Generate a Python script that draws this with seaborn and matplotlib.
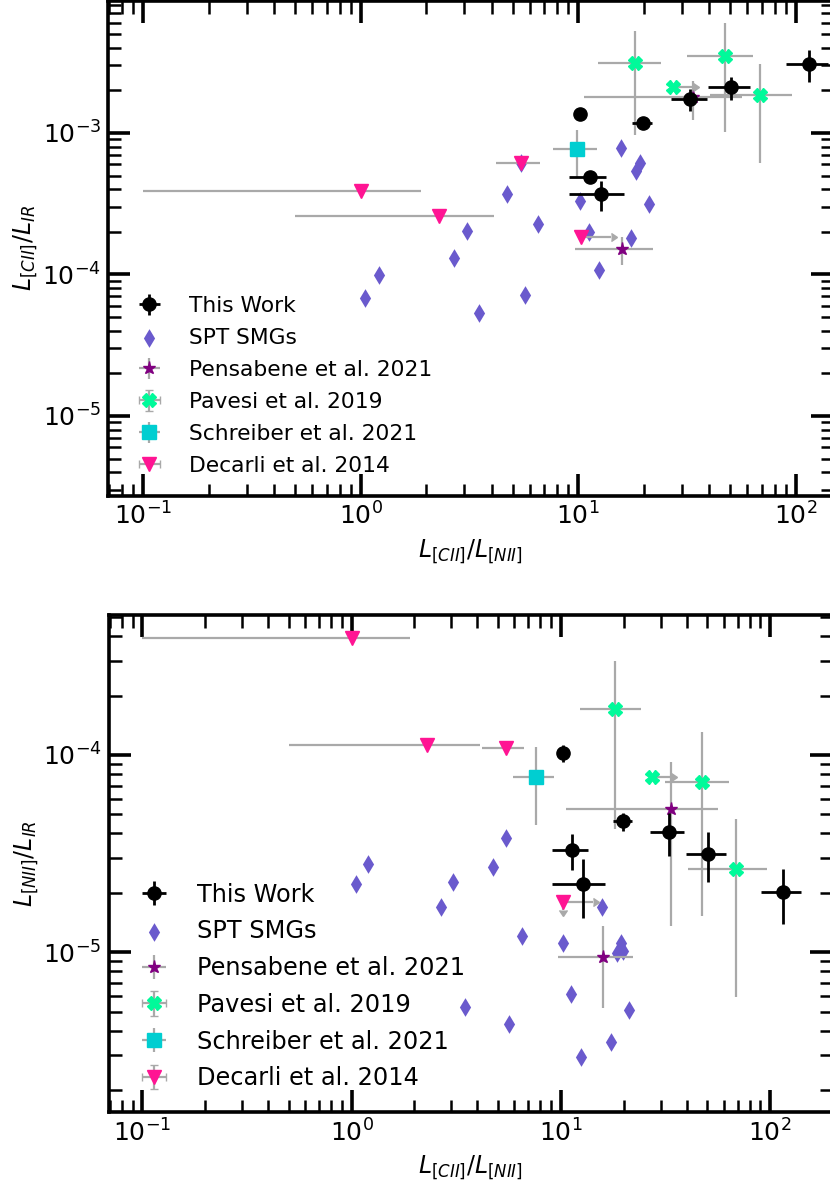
import matplotlib
matplotlib.use("Agg")
import matplotlib.pyplot as plt
import seaborn as sns
import numpy as np

# ---------------- data ----------------
# This Work (shared x for both panels)
tw_x = [10.2, 19.8, 11.3, 12.7, 32.8, 50.5, 115.7]
tw_xerr = [0.3, 2.1, 2.2, 3.6, 6.2, 11.0, 25.0]
tw_top_y = [1.36e-3, 1.18e-3, 4.9e-4, 3.7e-4, 1.75e-3, 2.10e-3, 3.06e-3]
tw_top_yerr = [0.06e-3, 0.05e-3, 0.3e-4, 0.9e-4, 0.31e-3, 0.38e-3, 0.77e-3]
tw_bot_y = [1.02e-4, 4.6e-5, 3.29e-5, 2.23e-5, 4.07e-5, 3.16e-5, 2.01e-5]
tw_bot_yerr = [0.1e-4, 0.47e-5, 0.69e-5, 0.74e-5, 0.98e-5, 0.9e-5, 0.62e-5]

# SPT SMGs
spt_top_x = [5.45, 4.73, 6.55, 3.09, 2.68, 1.216, 1.049, 3.52, 5.70, 15.7,
             19.3, 18.5, 21.1, 10.2, 11.2, 17.5, 12.5]
spt_top_y = [6.11e-4, 3.71e-4, 2.28e-4, 2.04e-4, 1.315e-4, 9.87e-5, 6.79e-5,
             5.32e-5, 7.19e-5, 7.80e-4, 6.11e-4, 5.35e-4, 3.15e-4, 3.31e-4,
             2.0e-4, 1.80e-4, 1.08e-4]
spt_bot_x = [1.20, 1.047, 3.07, 2.69, 5.45, 4.75, 6.52, 10.2, 15.7, 19.3,
             18.5, 19.8, 11.2, 3.48, 5.68, 21.1, 17.4, 12.5]
spt_bot_y = [2.80e-5, 2.22e-5, 2.27e-5, 1.69e-5, 3.81e-5, 2.69e-5, 1.21e-5,
             1.12e-5, 1.70e-5, 1.12e-5, 9.89e-6, 1.02e-5, 6.14e-6, 5.25e-6,
             4.35e-6, 5.1e-6, 3.51e-6, 2.96e-6]

# Pensabene et al. 2021
pen_x = [15.9, 33.6]
pen_xerr = [6.2, 23.0]
pen_top_y = [1.51e-4, 1.79e-3]
pen_top_yerr = [0.34e-4, 0.55e-3]
pen_bot_y = [9.43e-6, 5.31e-5]
pen_bot_yerr = [4.2e-6, 3.95e-5]

# Pavesi et al. 2019
pav_x = [18.2, 47.5, 68.6, 27.4]
pav_xerr = [5.9, 16.0, 28.0, 6.3]
pav_xlolims = [False, False, False, True]
pav_top_y = [3.11e-3, 3.52e-3, 1.85e-3, 2.12e-3]
pav_top_yerr = [2.15e-3, 2.5e-3, 1.24e-3, 0.0]
pav_bot_y = [1.70e-4, 7.33e-5, 2.65e-5, 7.74e-5]
pav_bot_yerr = [1.28e-4, 5.8e-5, 2.06e-5, 0.0]

# Schreiber et al. 2021
sch_top_x = [9.9]
sch_top_xerr = [2.25]
sch_top_y = [7.7e-4]
sch_top_yerr = [2.8e-4]
sch_bot_x = [7.6]
sch_bot_xerr = [1.7]
sch_bot_y = [7.7e-5]
sch_bot_yerr = [3.3e-5]

# Decarli et al. 2014
dec_x = [1.0, 2.3, 5.45, 10.3]
dec_xerr = [0.9, 1.8, 1.25, 3.9]
dec_xlolims = [False, False, False, True]
dec_top_y = [3.9e-4, 2.59e-4, 6.1e-4, 1.85e-4]
dec_bot_y = [3.9e-4, 1.12e-4, 1.09e-4, 1.80e-5]
dec_bot_yerr = [0.0, 0.0, 0.0, 0.17e-5]
dec_bot_uplims = [False, False, False, True]

labels = ["This Work", "SPT SMGs", "Pensabene et al. 2021",
          "Pavesi et al. 2019", "Schreiber et al. 2021", "Decarli et al. 2014"]

# ---------------- style ----------------
sns.set_style("ticks")
plt.rcParams["font.family"] = ["DejaVu Sans"]
plt.rcParams["mathtext.fontset"] = "dejavusans"
for k in ["text.color", "axes.labelcolor", "xtick.color", "ytick.color", "axes.edgecolor"]:
    plt.rcParams[k] = "black"

fig = plt.figure(figsize=(8.3, 11.82), dpi=100)
ax_top = fig.add_axes([108 / 830, 1 - 495.7 / 1182, (833 - 108) / 830, (495.7 - 1) / 1182])
ax_bot = fig.add_axes([108.5 / 830, 1 - 1112 / 1182, (832 - 108.5) / 830, (1112 - 615) / 1182])

MS = 9.5
GRAY = "darkgray"
ELW = 1.6


def gray_caps(container):
    for cl in container[1]:
        cl.set_color(GRAY)
        cl.set_markerfacecolor(GRAY)
        cl.set_markeredgecolor(GRAY)


def panel(ax, spt_x, spt_y, tw_y, tw_yerr, pen_y, pen_yerr, pav_y, pav_yerr,
          sch_x, sch_xerr, sch_y, sch_yerr, dec_y, dec_yerr, dec_uplims,
          xlim, ylim, ylabel, leg_fs, leg_ls):
    ax.set_xscale("log")
    ax.set_yscale("log")
    sns.scatterplot(x=spt_x, y=spt_y, marker="d", s=MS ** 2, color="slateblue",
                    linewidth=0, ax=ax, zorder=2)
    h_spt = ax.collections[-1]
    h_pen = ax.errorbar(pen_x, pen_y, xerr=pen_xerr, yerr=pen_yerr, fmt="*",
                        color="purple", ms=MS, ecolor=GRAY, elinewidth=ELW, zorder=3)
    h_pav = ax.errorbar(pav_x, pav_y, xerr=pav_xerr, yerr=pav_yerr, xlolims=pav_xlolims,
                        fmt="X", color="mediumspringgreen", ms=MS, ecolor=GRAY,
                        elinewidth=ELW, zorder=4)
    gray_caps(h_pav)
    h_sch = ax.errorbar(sch_x, sch_y, xerr=sch_xerr, yerr=sch_yerr, fmt="s",
                        color="darkturquoise", ms=MS, ecolor=GRAY, elinewidth=ELW, zorder=5)
    if dec_yerr is None:
        h_dec = ax.errorbar(dec_x, dec_y, xerr=dec_xerr, xlolims=dec_xlolims, fmt="v",
                            color="deeppink", ms=MS, ecolor=GRAY, elinewidth=ELW, zorder=6)
    else:
        h_dec = ax.errorbar(dec_x, dec_y, xerr=dec_xerr, xlolims=dec_xlolims,
                            yerr=dec_yerr, uplims=dec_uplims, fmt="v",
                            color="deeppink", ms=MS, ecolor=GRAY, elinewidth=ELW, zorder=6)
    gray_caps(h_dec)
    h_tw = ax.errorbar(tw_x, tw_y, xerr=tw_xerr, yerr=tw_yerr, fmt="o", color="black",
                       ms=MS, ecolor="black", elinewidth=2.0, zorder=7)
    ax.set_xlim(*xlim)
    ax.set_ylim(*ylim)
    ax.tick_params(which="both", direction="in", top=True, right=True,
                   labelsize=18, pad=5, colors="black")
    ax.tick_params(which="major", length=16, width=2.6)
    ax.tick_params(which="minor", length=9, width=1.8)
    for sp in ax.spines.values():
        sp.set_linewidth(2.6)
        sp.set_color("black")
    ax.set_xlabel(r"$L_{[CII]}/L_{[NII]}$", fontsize=17, labelpad=5)
    ax.set_ylabel(ylabel, fontsize=17, labelpad=2)
    ax.legend([h_tw, h_spt, h_pen, h_pav, h_sch, h_dec], labels, loc="lower left",
              frameon=False, fontsize=leg_fs, labelspacing=leg_ls)


panel(ax_top, spt_top_x, spt_top_y, tw_top_y, tw_top_yerr, pen_top_y, pen_top_yerr,
      pav_top_y, pav_top_yerr, sch_top_x, sch_top_xerr, sch_top_y, sch_top_yerr,
      dec_top_y, None, None, (0.069, 148.5), (2.73e-6, 8.57e-3),
      r"$L_{[CII]}/L_{IR}$", 15.7, 0.55)
panel(ax_bot, spt_bot_x, spt_bot_y, tw_bot_y, tw_bot_yerr, pen_bot_y, pen_bot_yerr,
      pav_bot_y, pav_bot_yerr, sch_bot_x, sch_bot_xerr, sch_bot_y, sch_bot_yerr,
      dec_bot_y, dec_bot_yerr, dec_bot_uplims, (0.069, 197.7), (1.55e-6, 5.12e-4),
      r"$L_{[NII]}/L_{IR}$", 17.3, 0.53)

fig.savefig("out.png", dpi=100)
